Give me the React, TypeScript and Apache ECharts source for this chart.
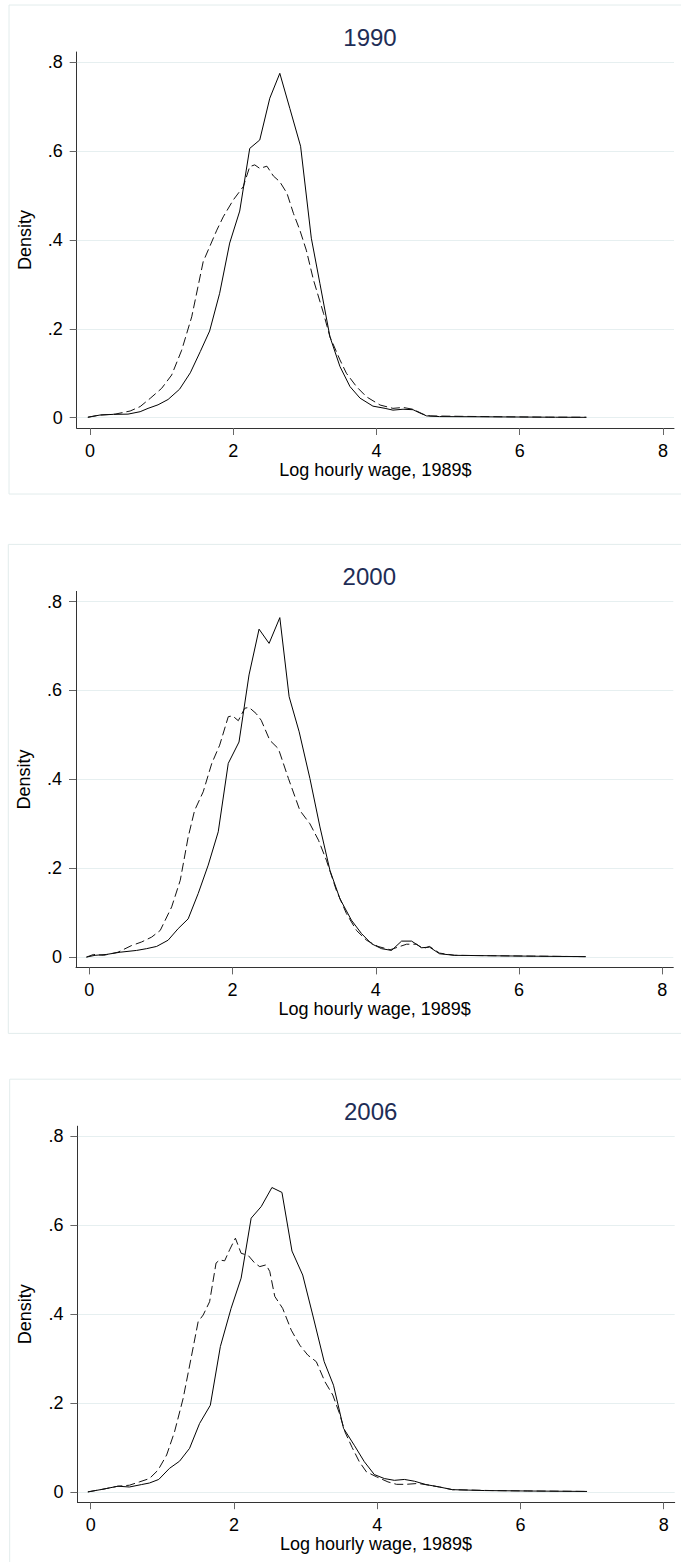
import React, { useEffect, useRef } from "react";
import * as echarts from "echarts";

// ---- data (x = log hourly wage, y = density) ----
const years = ["1990", "2000", "2006"];
const xTicks = [0, 2, 4, 6, 8];
const yTicks = [0, 0.2, 0.4, 0.6, 0.8];
const xTitle = "Log hourly wage, 1989$";
const yTitle = "Density";

const solid1990: [number, number][] = [
  [-0.03, 0.001], [0.14, 0.006], [0.33, 0.0075], [0.53, 0.008], [0.7, 0.0135], [0.81, 0.021],
  [0.95, 0.029], [1.09, 0.041], [1.25, 0.064], [1.4, 0.101], [1.54, 0.149], [1.67, 0.195],
  [1.81, 0.28], [1.95, 0.393], [2.09, 0.465], [2.23, 0.606], [2.37, 0.625], [2.51, 0.719],
  [2.65, 0.775], [2.79, 0.696], [2.94, 0.611], [3.09, 0.404], [3.21, 0.302], [3.35, 0.182],
  [3.49, 0.115], [3.63, 0.07], [3.77, 0.044], [3.95, 0.026], [4.12, 0.021], [4.23, 0.017],
  [4.37, 0.019], [4.51, 0.018], [4.6, 0.011], [4.7, 0.004], [4.88, 0.0025], [5.5, 0.002],
  [6.0, 0.0015], [6.5, 0.001], [6.93, 0.0008],
];
const dashed1990: [number, number][] = [
  [-0.03, 0.001], [0.14, 0.006], [0.35, 0.008], [0.56, 0.015], [0.7, 0.025], [0.84, 0.0435],
  [1.0, 0.066], [1.14, 0.096], [1.28, 0.152], [1.42, 0.227], [1.58, 0.351], [1.77, 0.422],
  [1.86, 0.452], [2.0, 0.49], [2.14, 0.52], [2.23, 0.565], [2.3, 0.569], [2.37, 0.561],
  [2.47, 0.566], [2.56, 0.544], [2.65, 0.531], [2.75, 0.505], [2.84, 0.46], [2.93, 0.422],
  [3.02, 0.377], [3.12, 0.31], [3.26, 0.235], [3.35, 0.182], [3.49, 0.13], [3.58, 0.1],
  [3.72, 0.07], [3.86, 0.047], [4.05, 0.0285], [4.23, 0.021], [4.37, 0.023], [4.51, 0.019],
  [4.65, 0.008], [4.75, 0.004], [5.2, 0.003], [5.8, 0.002], [6.4, 0.0012], [6.93, 0.001],
];

const solid2000: [number, number][] = [
  [-0.04, 0.0], [0.08, 0.004], [0.24, 0.006], [0.43, 0.011], [0.66, 0.015], [0.8, 0.019],
  [0.94, 0.024], [1.1, 0.038], [1.24, 0.064], [1.38, 0.086], [1.52, 0.143], [1.66, 0.207],
  [1.8, 0.282], [1.94, 0.436], [2.09, 0.484], [2.23, 0.635], [2.37, 0.738], [2.51, 0.706],
  [2.66, 0.764], [2.79, 0.586], [2.93, 0.507], [3.08, 0.402], [3.22, 0.293], [3.36, 0.195],
  [3.5, 0.131], [3.66, 0.083], [3.8, 0.053], [3.94, 0.03], [4.08, 0.019], [4.22, 0.015],
  [4.36, 0.036], [4.5, 0.036], [4.64, 0.021], [4.75, 0.0225], [4.89, 0.0075], [5.1, 0.004],
  [5.6, 0.003], [6.2, 0.002], [6.93, 0.001],
];
const dashed2000: [number, number][] = [
  [-0.04, 0.0], [0.06, 0.006], [0.2, 0.004], [0.4, 0.011], [0.59, 0.026], [0.73, 0.034],
  [0.87, 0.045], [0.99, 0.06], [1.15, 0.113], [1.27, 0.173], [1.38, 0.27], [1.47, 0.33],
  [1.59, 0.372], [1.71, 0.436], [1.82, 0.477], [1.94, 0.541], [2.0, 0.543], [2.08, 0.532],
  [2.17, 0.56], [2.23, 0.562], [2.33, 0.548], [2.4, 0.533], [2.52, 0.488], [2.64, 0.469],
  [2.78, 0.402], [2.94, 0.33], [3.08, 0.3], [3.2, 0.263], [3.31, 0.218], [3.45, 0.15],
  [3.59, 0.098], [3.73, 0.06], [3.87, 0.038], [4.03, 0.024], [4.2, 0.0165], [4.43, 0.029],
  [4.57, 0.029], [4.66, 0.019], [4.75, 0.024], [4.89, 0.009], [5.1, 0.004], [5.7, 0.003],
  [6.3, 0.002], [6.93, 0.001],
];

const solid2006: [number, number][] = [
  [-0.04, 0.0], [0.17, 0.006], [0.38, 0.0128], [0.54, 0.011], [0.71, 0.0165], [0.82, 0.02],
  [0.95, 0.028], [1.1, 0.053], [1.24, 0.069], [1.38, 0.098], [1.52, 0.154], [1.67, 0.195],
  [1.81, 0.327], [1.96, 0.413], [2.1, 0.481], [2.24, 0.616], [2.38, 0.642], [2.53, 0.685],
  [2.67, 0.674], [2.81, 0.542], [2.96, 0.488], [3.1, 0.398], [3.26, 0.293], [3.39, 0.24],
  [3.53, 0.143], [3.68, 0.105], [3.82, 0.068], [3.96, 0.039], [4.1, 0.03], [4.24, 0.026],
  [4.38, 0.028], [4.52, 0.024], [4.68, 0.0165], [4.87, 0.011], [5.05, 0.005], [5.5, 0.003],
  [6.1, 0.002], [6.93, 0.001],
];
const dashed2006: [number, number][] = [
  [-0.04, 0.0], [0.17, 0.006], [0.38, 0.0128], [0.54, 0.015], [0.68, 0.0225], [0.82, 0.03],
  [0.94, 0.049], [1.06, 0.083], [1.17, 0.135], [1.29, 0.21], [1.4, 0.3], [1.5, 0.383],
  [1.57, 0.398], [1.66, 0.428], [1.75, 0.515], [1.8, 0.522], [1.87, 0.52], [1.94, 0.545],
  [2.02, 0.571], [2.1, 0.537], [2.2, 0.532], [2.29, 0.515], [2.36, 0.507], [2.45, 0.511],
  [2.5, 0.496], [2.57, 0.44], [2.68, 0.413], [2.8, 0.364], [2.92, 0.33], [3.03, 0.308],
  [3.15, 0.293], [3.27, 0.248], [3.38, 0.218], [3.47, 0.178], [3.55, 0.135], [3.65, 0.1],
  [3.75, 0.068], [3.85, 0.045], [3.99, 0.034], [4.15, 0.0225], [4.27, 0.017], [4.4, 0.017],
  [4.57, 0.019], [4.73, 0.015], [4.87, 0.011], [5.05, 0.005], [5.6, 0.003], [6.2, 0.002],
  [6.93, 0.001],
];

const solidSeries = [solid1990, solid2000, solid2006];
const dashedSeries = [dashed1990, dashed2000, dashed2006];

// ---- layout (pixels) ----
const W = 681;
const H = 1562;
const panelTop = [0, 539.4, 1074.2];
const panelDx = [0, -0.7, 0.7];
const FONT = "'Liberation Sans', Arial, Helvetica, sans-serif";

function buildOption() {
  const grid: any[] = [];
  const xAxis: any[] = [];
  const yAxis: any[] = [];
  const series: any[] = [];
  const graphic: any[] = [];

  years.forEach((yr, i) => {
    const off = panelTop[i];
    const dx = panelDx[i];
    graphic.push({
      type: "rect",
      silent: true,
      shape: { x: 9 + dx, y: 5 + off, width: 720, height: 489 },
      style: { fill: "none", stroke: "#e2ecec", lineWidth: 1 },
      z: -1,
    });
    graphic.push({
      type: "text",
      x: 370 + dx,
      y: 37 + off,
      style: {
        text: yr,
        align: "center",
        verticalAlign: "middle",
        fontSize: 24,
        fontFamily: FONT,
        fill: "#1e2d56",
      },
    });
    grid.push({ left: 76.7 + dx, top: 52 + off, width: 597.3, height: 376, containLabel: false });
    xAxis.push({
      type: "value",
      gridIndex: i,
      min: -0.186,
      max: 8.154,
      name: xTitle,
      nameLocation: "middle",
      nameGap: 28,
      nameTextStyle: { fontSize: 18, fontFamily: FONT, color: "#000" },
      axisLine: { show: true, onZero: false, lineStyle: { color: "#333", width: 1 } },
      axisTick: { show: true, length: 7, customValues: xTicks, lineStyle: { color: "#666" } },
      axisLabel: {
        show: true,
        customValues: xTicks,
        margin: 14,
        fontSize: 18,
        fontFamily: FONT,
        color: "#000",
      },
      splitLine: { show: false },
    });
    yAxis.push({
      type: "value",
      gridIndex: i,
      min: -0.0232,
      max: 0.823,
      name: yTitle,
      nameLocation: "middle",
      nameGap: 43,
      nameTextStyle: { fontSize: 18, fontFamily: FONT, color: "#000" },
      axisLine: { show: true, onZero: false, lineStyle: { color: "#333", width: 1 } },
      axisTick: { show: true, length: 7, customValues: yTicks, lineStyle: { color: "#666" } },
      axisLabel: {
        show: true,
        customValues: yTicks,
        margin: 14,
        fontSize: 18,
        fontFamily: FONT,
        color: "#000",
        formatter: (v: number) => (v === 0 ? "0" : String(Number(v.toFixed(1))).replace(/^0/, "")),
      },
      splitLine: { show: true, lineStyle: { color: "#e6eff0", width: 1 } },
    });
    series.push({
      type: "line",
      name: yr + " solid",
      xAxisIndex: i,
      yAxisIndex: i,
      data: solidSeries[i],
      symbol: "none",
      showSymbol: false,
      lineStyle: { color: "#000", width: 1 },
    });
    series.push({
      type: "line",
      name: yr + " dashed",
      xAxisIndex: i,
      yAxisIndex: i,
      data: dashedSeries[i],
      symbol: "none",
      showSymbol: false,
      lineStyle: { color: "#111", width: 1, type: [9, 4] },
    });
  });

  return {
    animation: false,
    backgroundColor: "#fff",
    grid,
    xAxis,
    yAxis,
    series,
    graphic,
  };
}

export default function App() {
  const ref = useRef<HTMLDivElement>(null);
  useEffect(() => {
    if (!ref.current) return;
    const chart = echarts.init(ref.current, undefined, { renderer: "svg" });
    chart.setOption(buildOption());
    return () => chart.dispose();
  }, []);
  return (
    <div
      ref={ref}
      style={{ position: "absolute", left: 0, top: 0, width: W, height: H, background: "#fff" }}
    />
  );
}
